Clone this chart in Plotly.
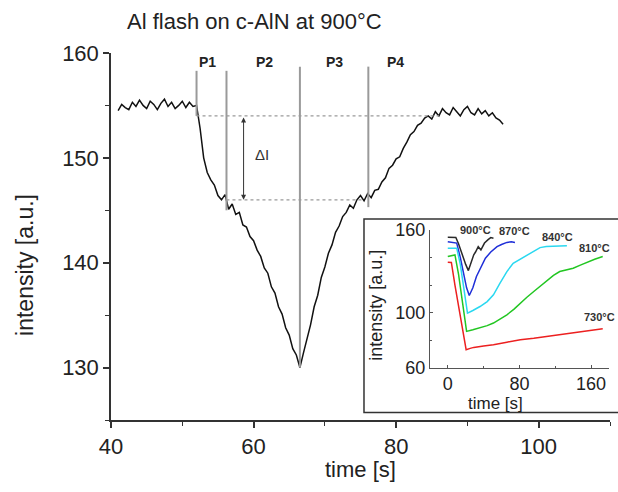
import plotly.graph_objects as go

# ---------------- main curve (Al flash on c-AlN at 900 C) ----------------
main_time = [41.0, 41.5, 42.0, 42.5, 43.0, 43.5, 44.0, 44.5, 45.0, 45.5,
             46.0, 46.5, 47.0, 47.5, 48.0, 48.5, 49.0, 49.5, 50.0, 50.5,
             51.0, 51.5, 52.0, 52.5, 53.0, 53.5, 54.0, 54.5, 55.0, 55.5,
             56.0, 56.5, 57.0, 57.5, 58.0, 58.5, 59.0, 59.5, 60.0, 60.5,
             61.0, 61.5, 62.0, 62.5, 63.0, 63.5, 64.0, 64.5, 65.0, 65.5,
             66.0, 66.5, 67.0, 67.5, 68.0, 68.5, 69.0, 69.5, 70.0, 70.5,
             71.0, 71.5, 72.0, 72.5, 73.0, 73.5, 74.0, 74.5, 75.0, 75.5,
             76.0, 76.5, 77.0, 77.5, 78.0, 78.5, 79.0, 79.5, 80.0, 80.5,
             81.0, 81.5, 82.0, 82.5, 83.0, 83.5, 84.0, 84.5, 85.0, 85.5,
             86.0, 86.5, 87.0, 87.5, 88.0, 88.5, 89.0, 89.5, 90.0, 90.5,
             91.0, 91.5, 92.0, 92.5, 93.0, 93.5, 94.0, 94.5, 95.0]
main_intensity = [154.5, 155.1, 154.8, 154.6, 155.3, 154.9, 155.5, 155.0, 154.7, 155.4,
                  155.1, 154.6, 155.2, 155.6, 154.9, 155.3, 154.7, 155.0, 155.4, 154.8,
                  155.3, 154.9, 155.0, 152.8, 150.0, 148.6, 147.9, 147.4, 146.4, 146.0,
                  146.5, 145.1, 145.6, 144.6, 144.8, 143.6, 143.4, 142.5, 142.1, 141.2,
                  140.6, 139.5, 139.0, 137.7, 137.1, 135.8, 135.1, 133.8, 133.1, 131.8,
                  131.2, 130.0, 131.4, 132.8, 134.1, 135.8, 136.9, 138.6, 139.6, 140.9,
                  141.7, 142.9, 143.5, 144.4, 144.8, 145.5, 145.2, 146.0, 146.4, 145.9,
                  146.6, 146.2, 146.9, 147.0, 147.7, 148.1, 149.0, 149.3, 149.9, 150.1,
                  150.9, 151.5, 152.2, 152.5, 153.1, 153.3, 153.8, 154.0, 153.7, 154.4,
                  154.0, 154.7, 154.3, 154.1, 154.8, 154.4, 154.0, 154.6, 154.9, 154.3,
                  154.1, 154.7, 154.2, 154.5, 154.0, 154.3, 153.8, 153.6, 153.2]

# phase boundary lines P1..P4
phase_x = [52.0, 56.2, 66.5, 76.1]
phase_top = [158.3, 158.3, 158.7, 158.7]
phase_bottom = [154.0, 145.0, 130.0, 145.3]
phase_labels = ["P1", "P2", "P3", "P4"]
phase_label_x = [53.6, 61.6, 71.4, 79.9]
phase_label_y = 159.1

# dotted reference levels and delta-I arrow
upper_level = 154.0
upper_level_x = [52.0, 86.0]
lower_level = 146.0
lower_level_x = [56.2, 75.5]
delta_x = 58.6

# ---------------- inset: flashes at several temperatures ----------------
t900 = [0, 5, 9, 12, 16, 20, 23, 26, 29, 31, 34, 37, 41, 45, 48, 51]
i900 = [154.7, 154.5, 154.6, 150.0, 142.0, 135.0, 130.5, 136.0, 142.0, 144.0, 147.9, 145.5, 150.5, 153.0, 154.5, 154.0]

t870 = [0, 5, 10, 14, 18, 21, 24, 28, 32, 37, 42, 48, 55, 60, 66, 71, 75]
i870 = [151.5, 151.0, 150.5, 140.0, 127.0, 118.0, 112.4, 118.0, 126.2, 133.0, 139.5, 144.0, 147.9, 149.5, 151.0, 151.5, 151.0]

t840 = [0, 5, 10, 14, 18, 22, 28, 36, 44, 51, 58, 66, 73, 80, 88, 95, 103, 110, 118, 125, 133]
i840 = [146.7, 146.5, 146.8, 135.0, 116.0, 99.6, 101.5, 104.4, 108.0, 112.9, 121.0, 129.8, 135.8, 138.5, 141.9, 144.5, 147.2, 148.0, 148.4, 148.3, 148.5]

t810 = [0, 4, 8, 12, 16, 21, 28, 36, 44, 51, 58, 66, 74, 81, 88, 96, 104, 111, 118, 125, 133, 140, 148, 155, 164, 173]
i810 = [140.7, 141.2, 141.9, 128.0, 108.0, 86.3, 87.5, 88.8, 90.5, 92.4, 95.0, 98.4, 102.5, 106.9, 111.0, 115.3, 119.5, 123.8, 127.0, 129.8, 131.0, 132.2, 134.5, 136.6, 138.8, 140.7]

t730 = [0, 4, 8, 12, 16, 20.5, 25, 29, 40, 51, 66, 81, 96, 111, 126, 140, 155, 173]
i730 = [136.6, 136.4, 120.0, 104.0, 88.0, 73.0, 74.0, 74.7, 75.8, 76.7, 78.5, 80.3, 81.4, 82.7, 83.8, 85.1, 86.4, 88.3]

inset_series = [
    ("900°C", t900, i900, "#2a2a2a", 31, 160),
    ("870°C", t870, i870, "#1f2fd8", 75, 159),
    ("840°C", t840, i840, "#2ad8f0", 122, 155),
    ("810°C", t810, i810, "#22c622", 164, 147),
    ("730°C", t730, i730, "#ec2020", 169, 97),
]

FONT = "Liberation Sans, Arial, sans-serif"
AX = "#333333"

fig = go.Figure()

fig.add_trace(go.Scatter(x=main_time, y=main_intensity, mode="lines",
                         line=dict(color="#111111", width=1.5),
                         xaxis="x", yaxis="y", hoverinfo="skip"))

vx, vy = [], []
for xv, yt, yb in zip(phase_x, phase_top, phase_bottom):
    vx += [xv, xv, None]
    vy += [yt, yb, None]
fig.add_trace(go.Scatter(x=vx, y=vy, mode="lines",
                         line=dict(color="#9a9a9a", width=2),
                         xaxis="x", yaxis="y", hoverinfo="skip"))

fig.add_trace(go.Scatter(x=upper_level_x + [None] + lower_level_x,
                         y=[upper_level, upper_level, None, lower_level, lower_level],
                         mode="lines", line=dict(color="#9a9a9a", width=1.2, dash="dot"),
                         xaxis="x", yaxis="y", hoverinfo="skip"))

for name, tx, iy, col, lx, ly in inset_series:
    fig.add_trace(go.Scatter(x=tx, y=iy, mode="lines", line=dict(color=col, width=1.5),
                             xaxis="x2", yaxis="y2", hoverinfo="skip"))

annotations = []
for lab, lx in zip(phase_labels, phase_label_x):
    annotations.append(dict(x=lx, y=phase_label_y, xref="x", yref="y", text="<b>%s</b>" % lab,
                            showarrow=False, font=dict(family=FONT, size=14, color="#222")))
annotations.append(dict(x=delta_x, y=lower_level, ax=delta_x, ay=upper_level,
                        xref="x", yref="y", axref="x", ayref="y", text="",
                        showarrow=True, arrowhead=2, arrowside="end+start",
                        arrowsize=1, arrowwidth=1, arrowcolor="#333"))
annotations.append(dict(x=61.2, y=150.3, xref="x", yref="y", text="ΔI", showarrow=False,
                        font=dict(family=FONT, size=15, color="#333")))
for name, tx, iy, col, lx, ly in inset_series:
    annotations.append(dict(x=lx, y=ly, xref="x2", yref="y2", text="<b>%s</b>" % name,
                            showarrow=False, font=dict(family=FONT, size=11, color="#333")))
annotations += [
    dict(x=0.028, y=1.0856, xref="paper", yref="paper", xanchor="left", yanchor="middle",
         text="Al flash on c-AlN at 900°C", showarrow=False,
         font=dict(family=FONT, size=22, color="#222")),
    dict(x=0.5, y=-0.1345, xref="paper", yref="paper", text="time [s]", showarrow=False,
         yanchor="middle", font=dict(family=FONT, size=22, color="#222")),
    dict(x=-0.1723, y=0.4226, xref="paper", yref="paper", text="intensity [a.u.]",
         showarrow=False, textangle=-90, xanchor="center", yanchor="middle",
         font=dict(family=FONT, size=23, color="#222")),
    dict(x=0.8297, y=0.046, xref="paper", yref="paper", text="time [s]", showarrow=False,
         yanchor="middle", font=dict(family=FONT, size=17, color="#222")),
    dict(x=0.531, y=0.3139, xref="paper", yref="paper", text="intensity [a.u.]",
         showarrow=False, textangle=-90, xanchor="center", yanchor="middle",
         font=dict(family=FONT, size=18, color="#222")),
]

fig.update_layout(
    width=618, height=492,
    margin=dict(l=111, r=8, t=52.5, b=71.5, autoexpand=False),
    paper_bgcolor="white", plot_bgcolor="white",
    showlegend=False,
    font=dict(family=FONT, color="#222"),
    xaxis=dict(domain=[0, 1], range=[40, 110], showline=True, linecolor=AX, linewidth=1.5,
               ticks="outside", ticklen=6, tickwidth=1.5, tickcolor=AX,
               tickvals=[40, 60, 80, 100], showgrid=False, zeroline=False,
               tickfont=dict(size=22, color="#222"),
               minor=dict(ticks="outside", ticklen=4, tickwidth=1.2, tickcolor=AX,
                          tickvals=[50, 70, 90, 110], showgrid=False)),
    yaxis=dict(domain=[0, 1], range=[125, 160], showline=True, linecolor=AX, linewidth=1.5,
               ticks="outside", ticklen=6, tickwidth=1.5, tickcolor=AX,
               tickvals=[130, 140, 150, 160], showgrid=False, zeroline=False,
               tickfont=dict(size=22, color="#222"),
               minor=dict(ticks="outside", ticklen=4, tickwidth=1.2, tickcolor=AX,
                          tickvals=[125, 135, 145, 155], showgrid=False)),
    xaxis2=dict(domain=[0.639, 0.998], anchor="y2", range=[-20, 180], showline=True,
                linecolor="#555", linewidth=1, ticks="inside", ticklen=3, tickcolor="#555",
                tickvals=[0, 80, 160], showgrid=False, zeroline=False,
                tickfont=dict(size=18, color="#222"),
                minor=dict(ticks="inside", ticklen=2, tickcolor="#555",
                           tickvals=[40, 120, 180], showgrid=False)),
    yaxis2=dict(domain=[0.1427, 0.5177], anchor="x2", range=[60, 160], showline=True,
                linecolor="#555", linewidth=1, ticks="inside", ticklen=3, tickcolor="#555",
                tickvals=[60, 100, 160], showgrid=False, zeroline=False,
                tickfont=dict(size=18, color="#222"),
                minor=dict(ticks="inside", ticklen=2, tickcolor="#555",
                           tickvals=[80, 120, 140], showgrid=False)),
    shapes=[dict(type="rect", xref="paper", yref="paper", x0=0.507, x1=1.02,
                 y0=0.0204, y1=0.5476, line=dict(color="#333", width=1.5),
                 fillcolor="white", layer="below")],
    annotations=annotations,
)

fig.write_html("out.html", config={"displayModeBar": False},
               post_script="document.body.style.margin='0px';")
